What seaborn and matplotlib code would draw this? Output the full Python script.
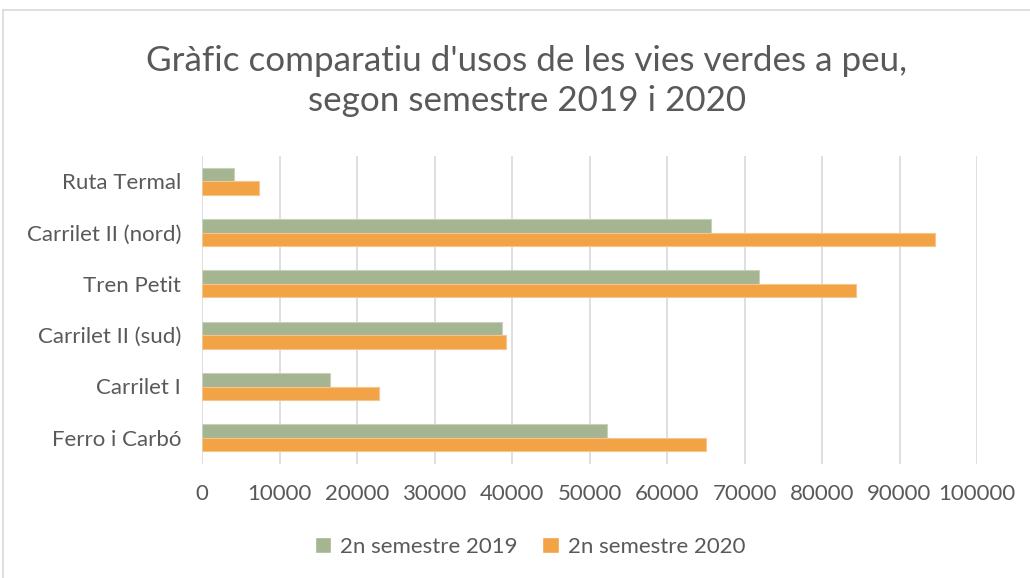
import pandas as pd
import numpy as np
import matplotlib
matplotlib.use("Agg")
import matplotlib.pyplot as plt
from matplotlib.lines import Line2D
from matplotlib.ticker import FuncFormatter
import seaborn as sns

# ---------------------------------------------------------------
# DATA
# ---------------------------------------------------------------
vies = ["Ruta Termal", "Carrilet II (nord)", "Tren Petit",
        "Carrilet II (sud)", "Carrilet I", "Ferro i Carbó"]
usos_2019 = [4100, 65700, 71900, 38700, 16500, 52300]
usos_2020 = [7400, 94600, 84400, 39200, 22800, 65000]
semestres = ["2n semestre 2019", "2n semestre 2020"]

df = pd.DataFrame({
    "Via": vies * 2,
    "Usos": usos_2019 + usos_2020,
    "Semestre": [semestres[0]] * len(vies) + [semestres[1]] * len(vies),
})

green = "#A5B592"
orange = "#F1A346"
text_col = "#595959"
grid_col = "#D9D9D9"

sns.set_theme(style="white")
plt.rcParams["font.family"] = ["Lato", "DejaVu Sans"]

fig = plt.figure(figsize=(10.30, 5.78), dpi=100)
ax = fig.add_axes([202 / 1030, 1 - 463.5 / 578, 775 / 1030, 308 / 578])

sns.barplot(data=df, y="Via", x="Usos", hue="Semestre", orient="h",
            order=vies, hue_order=semestres, palette=[green, orange],
            width=0.52, gap=0, saturation=1, ax=ax)

# thin lighter outline round each bar, as in the original
edge_cols = ["#C8D1BC", "#F7C58C"]
for cont, ec in zip(ax.containers, edge_cols):
    for bar in cont:
        bar.set_edgecolor(ec)
        bar.set_linewidth(0.8)

ax.set_xlim(0, 100000)
ax.set_xticks(np.arange(0, 100001, 10000))
ax.xaxis.set_major_formatter(FuncFormatter(lambda v, p: f"{int(v)}"))
ax.grid(axis="x", color=grid_col, linewidth=1.2)
ax.set_axisbelow(True)
for s in ax.spines.values():
    s.set_visible(False)
ax.set_xlabel("")
ax.set_ylabel("")
ax.tick_params(axis="both", length=0, labelsize=16, colors=text_col, pad=15)

handles, labels = ax.get_legend_handles_labels()
ax.get_legend().remove()
fig.legend(handles, labels, loc="center", bbox_to_anchor=(530 / 1030, 1 - 547 / 578),
           ncol=2, frameon=False, fontsize=16, labelcolor=text_col,
           handlelength=0.75, handleheight=0.75, handletextpad=0.4, columnspacing=1.1)

fig.text(527 / 1030, 1 - 81 / 578,
         "Gràfic comparatiu d'usos de les vies verdes a peu,\nsegon semestre 2019 i 2020",
         ha="center", va="center", fontsize=25.2,
         color=text_col, linespacing=1.3)

# chart border (top and left visible)
fig.add_artist(Line2D([3 / 1030, 3 / 1030], [0, 1 - 10 / 578], color=grid_col, lw=1.2))
fig.add_artist(Line2D([3 / 1030, 1], [1 - 10 / 578, 1 - 10 / 578], color=grid_col, lw=1.2))

fig.savefig("out.png", dpi=100)
